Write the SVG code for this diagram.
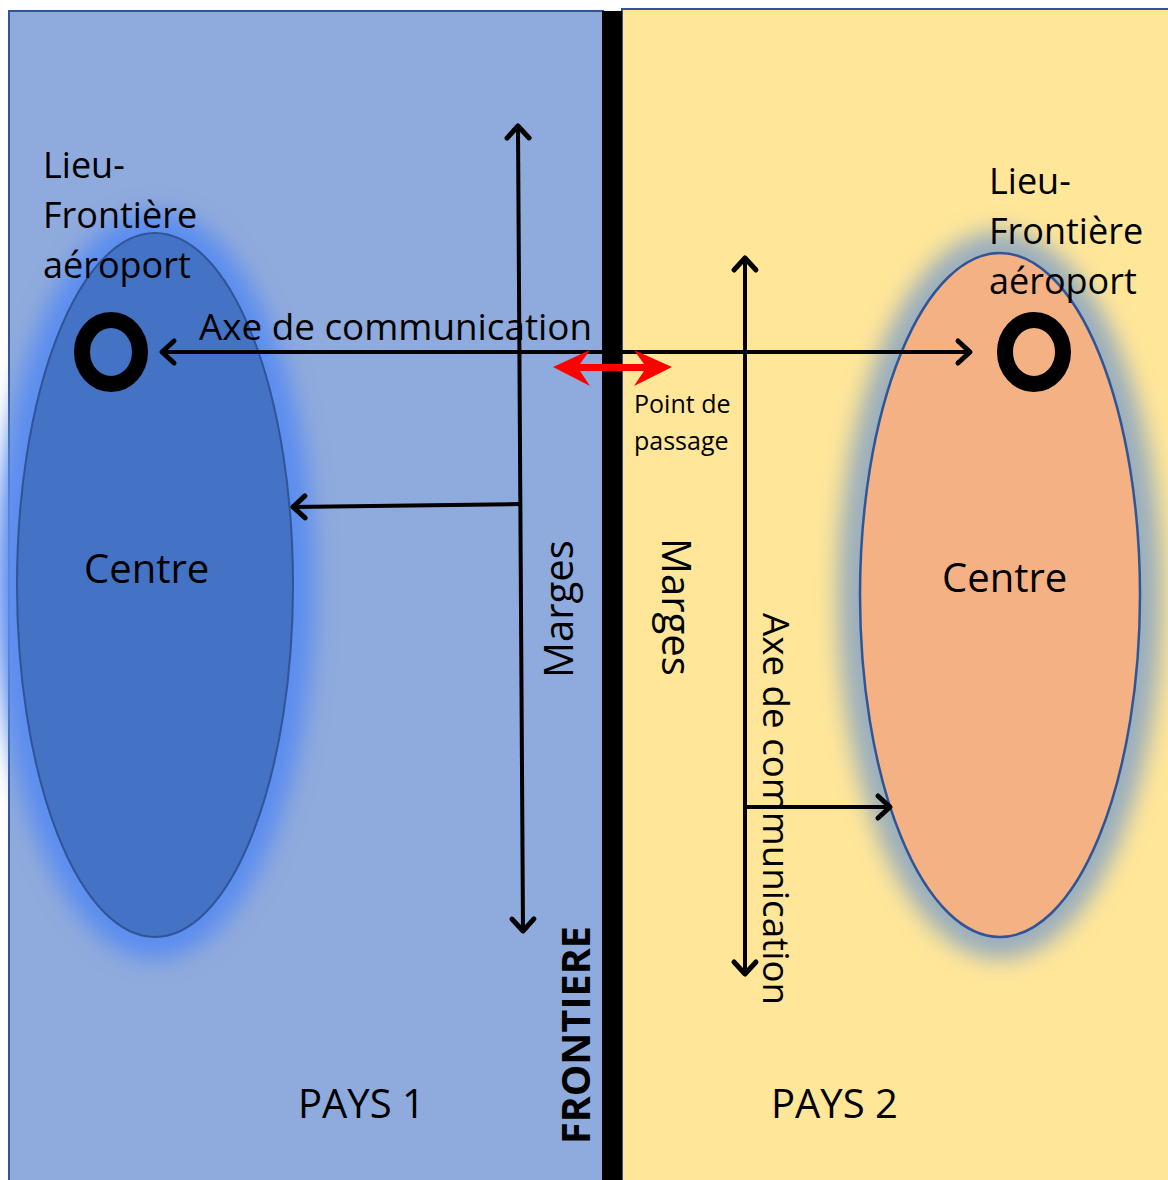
<svg xmlns="http://www.w3.org/2000/svg" width="1168" height="1180" viewBox="0 0 1168 1180">
<style>
text{font-family:"Open Sans","Noto Sans",sans-serif;fill:#000}
.lbl{font-size:36px}
.big{font-size:40px}
.sm{font-size:25px}
.ln{stroke:#000;stroke-width:4;fill:none}
</style>
<defs>
<marker id="ah" viewBox="-20 -20 40 40" refX="0" refY="0" markerWidth="40" markerHeight="40" markerUnits="userSpaceOnUse" orient="auto-start-reverse" overflow="visible">
<path d="M-12,-11 L0,0 L-12,11" fill="none" stroke="#000" stroke-width="5" stroke-linecap="round" stroke-linejoin="round"/>
</marker>
<filter id="glowB" x="-30%" y="-20%" width="160%" height="140%"><feGaussianBlur stdDeviation="11"/></filter>
</defs>
<g id="pays1">
<rect x="9" y="11" width="594" height="1175" fill="#8faadc" stroke="#2f5597" stroke-width="2"/>
</g>
<g id="pays2">
<rect x="622" y="9" width="560" height="1175" fill="#ffe699" stroke="#2f5597" stroke-width="2"/>
</g>
<g id="frontiere-line">
<rect x="602" y="11" width="20" height="1175" fill="#000"/>
</g>
<g id="centre1">
<ellipse cx="155" cy="585" rx="160" ry="374" fill="#5b8def" filter="url(#glowB)"/>
<ellipse cx="155" cy="585" rx="138" ry="352" fill="#4472c4" stroke="#2f5597" stroke-width="2"/>
<text class="big" x="84" y="583">Centre</text>
</g>
<g id="centre2">
<ellipse cx="1000" cy="595" rx="162" ry="364" fill="#9aaebd" filter="url(#glowB)"/>
<ellipse cx="1000" cy="595" rx="140" ry="342" fill="#f4b183" stroke="#2f5597" stroke-width="2.5"/>
<text class="big" x="942" y="592">Centre</text>
</g>
<g id="aeroport1">
<ellipse cx="111" cy="352" rx="29" ry="32" fill="none" stroke="#000" stroke-width="16"/>
<text class="lbl"><tspan x="43" y="178">Lieu-</tspan><tspan x="43" y="228">Frontière</tspan><tspan x="43" y="278">aéroport</tspan></text>
</g>
<g id="aeroport2">
<ellipse cx="1034" cy="352" rx="29" ry="32" fill="none" stroke="#000" stroke-width="16"/>
<text class="lbl"><tspan x="989" y="194">Lieu-</tspan><tspan x="989" y="244">Frontière</tspan><tspan x="989" y="294">aéroport</tspan></text>
</g>
<g id="connectors">
<line class="ln" x1="162" y1="352" x2="970" y2="352" marker-start="url(#ah)" marker-end="url(#ah)"/>
<line class="ln" x1="518" y1="126" x2="523" y2="931" marker-start="url(#ah)" marker-end="url(#ah)"/>
<line class="ln" x1="520" y1="504" x2="293" y2="507" marker-end="url(#ah)"/>
<line class="ln" x1="745" y1="258" x2="745" y2="974" marker-start="url(#ah)" marker-end="url(#ah)"/>
<line class="ln" x1="745" y1="807" x2="890" y2="807" marker-end="url(#ah)"/>
<path d="M553,367 L590,350 L580,364 L644,364 L634,350 L672,367 L634,386 L644,371 L580,371 L590,386 Z" fill="#ff0000"/>
</g>
<g id="labels">
<text class="lbl" x="199" y="340" textLength="393" lengthAdjust="spacingAndGlyphs">Axe de communication</text>
<text class="sm"><tspan x="634" y="413">Point de</tspan><tspan x="634" y="450">passage</tspan></text>
<text class="big" transform="translate(573,678) rotate(-90)">Marges</text>
<text class="big" transform="translate(662,538) rotate(90)">Marges</text>
<text class="lbl" transform="translate(763,613) rotate(90)" textLength="392" lengthAdjust="spacingAndGlyphs">Axe de communication</text>
<text font-weight="bold" style="font-size:40px" transform="translate(590,1144) rotate(-90)" textLength="218" lengthAdjust="spacingAndGlyphs">FRONTIERE</text>
<text class="big" x="298" y="1118">PAYS 1</text>
<text class="big" x="771" y="1118">PAYS 2</text>
</g>
</svg>
